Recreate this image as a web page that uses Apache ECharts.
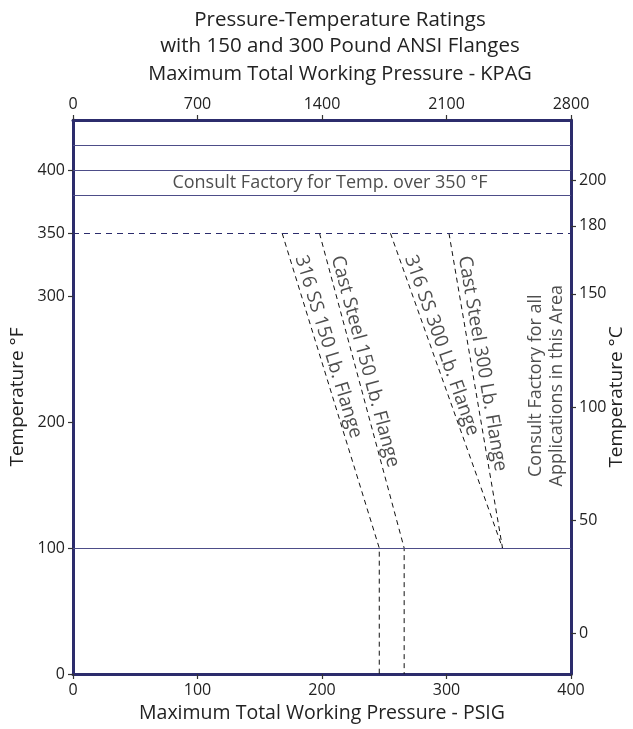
<!DOCTYPE html>
<html><head><meta charset="utf-8">
<script src="https://cdn.jsdelivr.net/npm/echarts@6/dist/echarts.min.js"></script>
<style>html,body{margin:0;padding:0;background:#fff}#c{width:633px;height:729px}</style>
</head><body><div id="c"></div>
<script>
// ---- data ----
const titleLines = ['Pressure-Temperature Ratings', 'with 150 and 300 Pound ANSI Flanges'];
const psigTicks = [0, 100, 200, 300, 400];
const kpagTicks = [0, 700, 1400, 2100, 2800];
const tempFTicks = [0, 100, 200, 300, 350, 400];
const tempCTicks = [0, 50, 100, 150, 180, 200];
const tempFMax = 440;
const ss150 = [[168, 350], [246, 100], [246, 0]];
const cs150 = [[198, 350], [266, 100], [266, 0]];
const ss300 = [[255, 350], [345, 100]];
const cs300 = [[302, 350], [345, 100]];
const solidLinesF = [420, 400, 380, 100];
const dashedLineF = 350;
const flangeNames = ['316 SS 150 Lb. Flange', 'Cast Steel 150 Lb. Flange', '316 SS 300 Lb. Flange', 'Cast Steel 300 Lb. Flange'];
const noteTop = 'Consult Factory for Temp. over 350 °F';
const noteRight = ['Consult Factory for all', 'Applications in this Area'];
const axisNames = {
  bottom: 'Maximum Total Working Pressure - PSIG',
  top: 'Maximum Total Working Pressure - KPAG',
  left: 'Temperature °F',
  right: 'Temperature °C'
};

// ---- styles ----
const FONT = 'Open Sans';
const NAVY = '#2c2c6c';
const REF = '#4d4d88';
const TXT = '#222';
const f2c = f => (f - 32) / 1.8;
const flanges = [ss150, cs150, ss300, cs300];

const chart = echarts.init(document.getElementById('c'), null, { renderer: 'canvas' });

function axisCommon(ticks) {
  return {
    axisLine: { show: true, onZero: false, lineStyle: { color: NAVY, width: 3 } },
    axisTick: { show: true, inside: false, length: 5, customValues: ticks, lineStyle: { color: '#333', width: 1.2 } },
    axisLabel: { customValues: ticks, color: TXT, fontSize: 16, fontFamily: FONT, formatter: v => String(v) },
    splitLine: { show: false },
    nameTextStyle: { color: TXT, fontSize: 19, fontFamily: FONT },
    nameLocation: 'middle',
    nameMoveOverlap: false
  };
}

const pMin = psigTicks[0], pMax = psigTicks[psigTicks.length - 1];

function anchorOn(line, T, shift) {
  const a = line[0], b = line[1];
  const t = (a[1] - T) / (a[1] - b[1]);
  return [a[0] + (b[0] - a[0]) * t + shift, T];
}

function buildOption(rots) {
  const series = [];
  series.push({
    type: 'line', data: [], xAxisIndex: 0, yAxisIndex: 0, silent: true,
    markLine: {
      symbol: 'none', silent: true, label: { show: false },
      data: solidLinesF.map(v => ({ yAxis: v, lineStyle: { color: REF, width: 1.2, type: 'solid' } }))
        .concat([{ yAxis: dashedLineF, lineStyle: { color: NAVY, width: 1.2, type: [6, 5] } }])
    }
  });
  flanges.forEach((d, i) => {
    series.push({
      type: 'line', data: d, xAxisIndex: 0, yAxisIndex: 0, symbol: 'none', silent: true,
      lineStyle: { color: '#111', width: 1, type: [5, 4] }
    });
    series.push({
      type: 'scatter', xAxisIndex: 0, yAxisIndex: 0, silent: true,
      symbolSize: 1, itemStyle: { color: 'rgba(0,0,0,0)' },
      data: [anchorOn(d, 332, 9)],
      label: {
        show: true, formatter: flangeNames[i], position: 'inside', align: 'left', verticalAlign: 'middle',
        rotate: rots[i], color: TXT, fontSize: 19, fontFamily: FONT
      }
    });
  });
  series.push({
    type: 'scatter', xAxisIndex: 0, yAxisIndex: 0, silent: true,
    symbolSize: 1, itemStyle: { color: 'rgba(0,0,0,0)' },
    data: [[(pMin + pMax) / 2, (solidLinesF[1] + solidLinesF[2]) / 2]],
    label: { show: true, formatter: noteTop, position: 'inside', align: 'center', verticalAlign: 'middle',
      offset: [8, 0], color: TXT, fontSize: 18, fontFamily: FONT }
  });
  series.push({
    type: 'scatter', xAxisIndex: 0, yAxisIndex: 0, silent: true,
    symbolSize: 1, itemStyle: { color: 'rgba(0,0,0,0)' },
    data: [[380, 229]],
    label: { show: true, formatter: noteRight.join('\n'), position: 'inside', align: 'center', verticalAlign: 'middle',
      rotate: 90, lineHeight: 21, color: TXT, fontSize: 18, fontFamily: FONT }
  });

  return {
    animation: false,
    backgroundColor: '#fff',
    title: {
      text: titleLines.join('\n'), left: 335, top: 2, textAlign: 'center',
      textStyle: { color: TXT, fontSize: 20.5, fontWeight: 'normal', fontFamily: FONT, lineHeight: 26 }
    },
    grid: { left: 73, right: 62, top: 120, bottom: 55, containLabel: false, outerBoundsMode: 'none' },
    xAxis: [
      Object.assign(axisCommon(psigTicks), {
        type: 'value', position: 'bottom', min: pMin, max: pMax, interval: 100,
        name: axisNames.bottom, nameGap: 29,
        nameTextStyle: { color: TXT, fontSize: 19.5, fontFamily: FONT }
      }),
      Object.assign(axisCommon(kpagTicks), {
        type: 'value', position: 'top', min: kpagTicks[0], max: kpagTicks[kpagTicks.length - 1], interval: 700,
        name: axisNames.top, nameGap: 36,
        nameTextStyle: { color: TXT, fontSize: 20, fontFamily: FONT, padding: [0, 0, 0, 36] }
      })
    ],
    yAxis: [
      Object.assign(axisCommon(tempFTicks), {
        type: 'value', position: 'left', min: 0, max: tempFMax,
        name: axisNames.left, nameGap: 46
      }),
      Object.assign(axisCommon(tempCTicks), {
        type: 'value', position: 'right', min: f2c(0), max: f2c(tempFMax),
        name: axisNames.right, nameGap: 36
      })
    ],
    series: series
  };
}

chart.setOption(buildOption([0, 0, 0, 0]));
const rots = flanges.map(d => {
  const p0 = chart.convertToPixel({ xAxisIndex: 0, yAxisIndex: 0 }, d[0]);
  const p1 = chart.convertToPixel({ xAxisIndex: 0, yAxisIndex: 0 }, d[1]);
  return -Math.atan2(p1[1] - p0[1], p1[0] - p0[0]) * 180 / Math.PI;
});
chart.setOption(buildOption(rots), true);
</script></body></html>
